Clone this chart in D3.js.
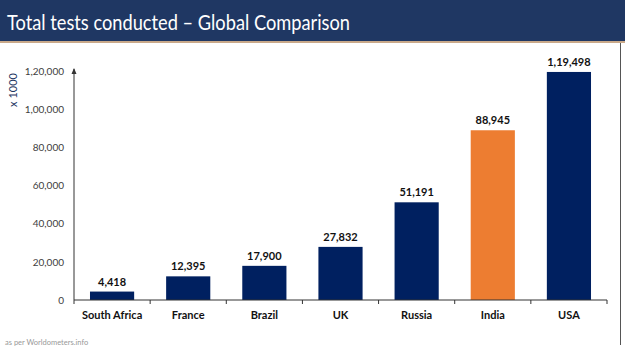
<!DOCTYPE html>
<html>
<head>
<meta charset="utf-8">
<script src="https://cdn.jsdelivr.net/npm/d3@7"></script>
<style>
  html, body { margin: 0; padding: 0; background: #fff; }
  svg { display: block; }
</style>
</head>
<body>
<svg id="chart" width="625" height="351"></svg>
<script>
const title = "Total tests conducted – Global Comparison";
const categories = ["South Africa", "France", "Brazil", "UK", "Russia", "India", "USA"];
const values = [4418, 12395, 17900, 27832, 51191, 88945, 119498];
const highlight = ["India"];
const yTicks = [0, 20000, 40000, 60000, 80000, 100000, 120000];
const yUnit = "x 1000";
const source = "as per Worldometers.info";

function indianFormat(n) {
  const s = String(Math.round(n));
  if (s.length <= 3) return s;
  const last3 = s.slice(-3);
  let rest = s.slice(0, -3);
  const parts = [];
  while (rest.length > 2) { parts.unshift(rest.slice(-2)); rest = rest.slice(0, -2); }
  if (rest.length) parts.unshift(rest);
  return parts.join(",") + "," + last3;
}

const svg = d3.select("#chart");
const W = 625, H = 351;
const plot = { left: 74, right: 607, top: 71, bottom: 300 };
const font = "Lato, 'Open Sans', sans-serif";

// Title band
svg.append("rect").attr("x", 0).attr("y", 0).attr("width", W).attr("height", 41).attr("fill", "#1f3763");
svg.append("rect").attr("x", 0).attr("y", 41).attr("width", W).attr("height", 2).attr("fill", "#c9a98a");
svg.append("text").attr("x", 7).attr("y", 30)
  .attr("fill", "#ffffff").attr("font-family", font)
  .attr("font-size", 22).attr("textLength", 343).attr("lengthAdjust", "spacingAndGlyphs")
  .text(title);

// Right frame line
svg.append("line").attr("x1", 620.5).attr("x2", 620.5).attr("y1", 43).attr("y2", 345)
  .attr("stroke", "#555").attr("stroke-width", 1);

const x = d3.scaleBand().domain(categories).range([plot.left, plot.right]).paddingInner(0.42).paddingOuter(0.21);
const y = d3.scaleLinear().domain([0, 120000]).range([plot.bottom, plot.top]);

// Bars
svg.append("g").selectAll("rect").data(categories).join("rect")
  .attr("x", d => x(d))
  .attr("y", (d, i) => y(values[i]))
  .attr("width", x.bandwidth())
  .attr("height", (d, i) => y(0) - y(values[i]))
  .attr("fill", d => highlight.includes(d) ? "#ed7d31" : "#002060");

// Value labels
svg.append("g").selectAll("text").data(categories).join("text")
  .attr("x", d => x(d) + x.bandwidth() / 2)
  .attr("y", (d, i) => y(values[i]) - 6)
  .attr("text-anchor", "middle")
  .attr("font-family", font)
  .attr("font-weight", "bold").attr("font-size", 11).attr("fill", "#111")
  .text((d, i) => indianFormat(values[i]));

// Y axis
const yAxis = d3.axisLeft(y).tickValues(yTicks).tickSize(0).tickPadding(10).tickFormat(indianFormat);
const gy = svg.append("g").attr("transform", `translate(${plot.left},0)`).call(yAxis);
gy.select(".domain").attr("stroke", "#333").attr("d", `M0,${plot.bottom}V${plot.top - 2}`);
gy.selectAll("text").attr("font-family", font).attr("font-size", 10).attr("fill", "#404040");
// Arrow head
svg.append("path").attr("d", `M${plot.left - 2.5},${plot.top + 3}L${plot.left},${plot.top - 3}L${plot.left + 2.5},${plot.top + 3}Z`).attr("fill", "#333");

// X axis
const xAxis = d3.axisBottom(x).tickSize(0).tickPadding(11);
const gx = svg.append("g").attr("transform", `translate(0,${plot.bottom})`).call(xAxis);
gx.select(".domain").attr("stroke", "#333").attr("d", `M${plot.left},0H${plot.right}`);
gx.selectAll("text").attr("font-family", font).attr("font-weight", "bold")
  .attr("font-size", 11).attr("fill", "#111");
// Boundary tick marks between categories
const bounds = d3.range(categories.length + 1).map(i => plot.left + i * (plot.right - plot.left) / categories.length);
svg.append("g").selectAll("line").data(bounds).join("line")
  .attr("x1", d => d).attr("x2", d => d).attr("y1", plot.bottom).attr("y2", plot.bottom + 4)
  .attr("stroke", "#333");

// Unit label
svg.append("text").attr("transform", `translate(17,90) rotate(-90)`)
  .attr("text-anchor", "middle").attr("font-family", font)
  .attr("font-size", 11).attr("fill", "#1f3763").text(yUnit);

// Source
svg.append("text").attr("x", 5).attr("y", 345).attr("font-family", font)
  .attr("font-size", 7.5).attr("fill", "#999").text(source);
</script>
</body>
</html>
